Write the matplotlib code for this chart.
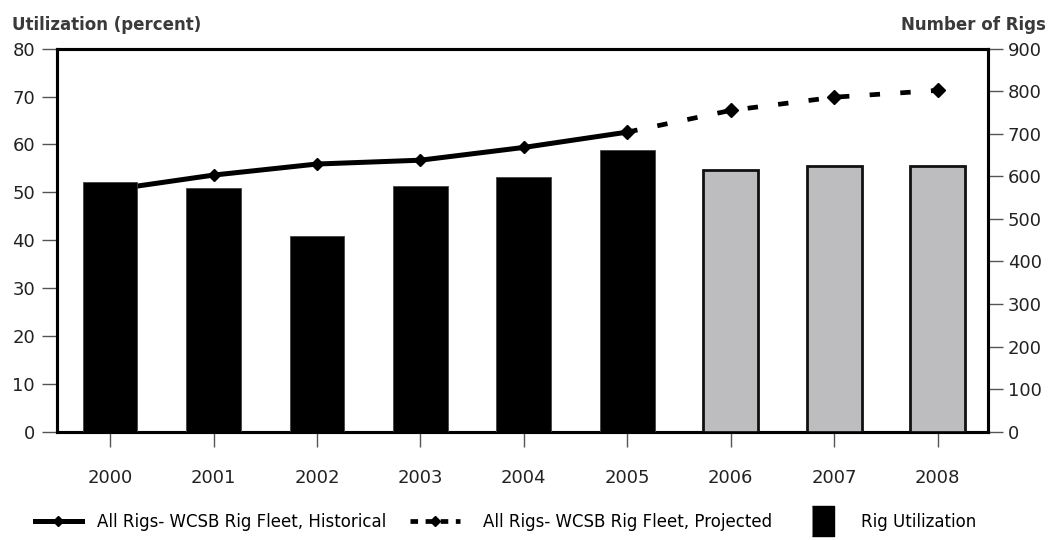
import matplotlib
matplotlib.use("Agg")
import matplotlib.pyplot as plt
from matplotlib.lines import Line2D

# data
years = ["2000", "2001", "2002", "2003", "2004", "2005", "2006", "2007", "2008"]
utilization = [52.1, 51.0, 40.9, 51.3, 53.3, 58.9, 54.7, 55.5, 55.5]  # percent
rigs_hist_years = ["2000", "2001", "2002", "2003", "2004", "2005"]
rigs_hist = [568, 603, 629, 638, 668, 704]
rigs_proj_years = ["2005", "2006", "2007", "2008"]
rigs_proj = [704, 755, 786, 802]
n_actual = 6  # bars up to 2005 are actuals (black), rest projected (grey)

title_color = "#3a3a3a"
tick_color = "#555555"
grey = "#bdbdbf"

fig = plt.figure(figsize=(10.5, 5.4), dpi=100)
ax = fig.add_axes([0.0546, 0.2006, 0.8866, 0.7092])
ax2 = ax.twinx()

x = list(range(len(years)))
xpos = {y: i for i, y in enumerate(years)}

# bars on the left axis
colors = ["black"] * n_actual + [grey] * (len(years) - n_actual)
edges = ["#444444"] * n_actual + ["#111111"] * (len(years) - n_actual)
lws = [0.6] * n_actual + [2.0] * (len(years) - n_actual)
ax.bar(x, utilization, width=0.53, color=colors, edgecolor=edges, linewidth=lws, zorder=3)

# rig counts on the right axis, drawn behind the bars
ax2.plot([xpos[y] for y in rigs_hist_years], rigs_hist, color="black", lw=3.6,
         marker="D", markersize=6.5, solid_joinstyle="miter")
ax2.plot([xpos[y] for y in rigs_proj_years], rigs_proj, color="black", lw=3.4,
         dashes=(2.2, 4.3), dash_capstyle="butt", marker="D", markersize=7.5)
ax.set_zorder(ax2.get_zorder() + 1)
ax.patch.set_visible(False)

ax.set_xlim(-0.51, 8.49)
ax.set_ylim(0, 80)
ax2.set_ylim(0, 900)
ax.set_yticks(range(0, 81, 10))
ax2.set_yticks(range(0, 901, 100))
ax.set_xticks(x)
ax.set_xticklabels(years)

for a in (ax, ax2):
    for s in a.spines.values():
        s.set_linewidth(2.2)
        s.set_color("black")

ax.tick_params(axis="x", length=11, width=1.0, color=tick_color, pad=16,
               labelsize=13, labelcolor="#222222")
ax.tick_params(axis="y", length=11, width=1.0, color=tick_color, pad=5,
               labelsize=13, labelcolor="#222222")
ax2.tick_params(axis="y", length=11, width=1.0, color=tick_color, pad=3,
                labelsize=13, labelcolor="#222222")

fig.text(0.011, 0.945, "Utilization (percent)", fontsize=12, fontweight="bold",
         color=title_color, ha="left", va="baseline")
fig.text(0.996, 0.945, "Number of Rigs", fontsize=12, fontweight="bold",
         color=title_color, ha="right", va="baseline")

# legend along the bottom, one entry each so they sit where the original has them
leg_items = [
    (Line2D([], [], color="black", lw=3.6, marker="D", markersize=5),
     "All Rigs- WCSB Rig Fleet, Historical", 0.0333, 2.8, 0.9),
    (Line2D([], [], color="black", lw=3.4, dashes=(1.6, 1.6), dash_capstyle="butt",
            marker="D", markersize=5),
     "All Rigs- WCSB Rig Fleet, Projected", 0.390, 3.0, 1.4),
    (Line2D([], [], color="black", lw=0,
            marker=[(-0.7, -1), (0.7, -1), (0.7, 1), (-0.7, 1)], markersize=22),
     "Rig Utilization", 0.771, 1.6, 1.5),
]
for handle, label, xa, hl, tp in leg_items:
    fig.legend([handle], [label], loc="center left", bbox_to_anchor=(xa, 0.034),
               frameon=False, borderpad=0, borderaxespad=0, handlelength=hl,
               handletextpad=tp, prop={"size": 12})

fig.savefig("out.png", dpi=100)
